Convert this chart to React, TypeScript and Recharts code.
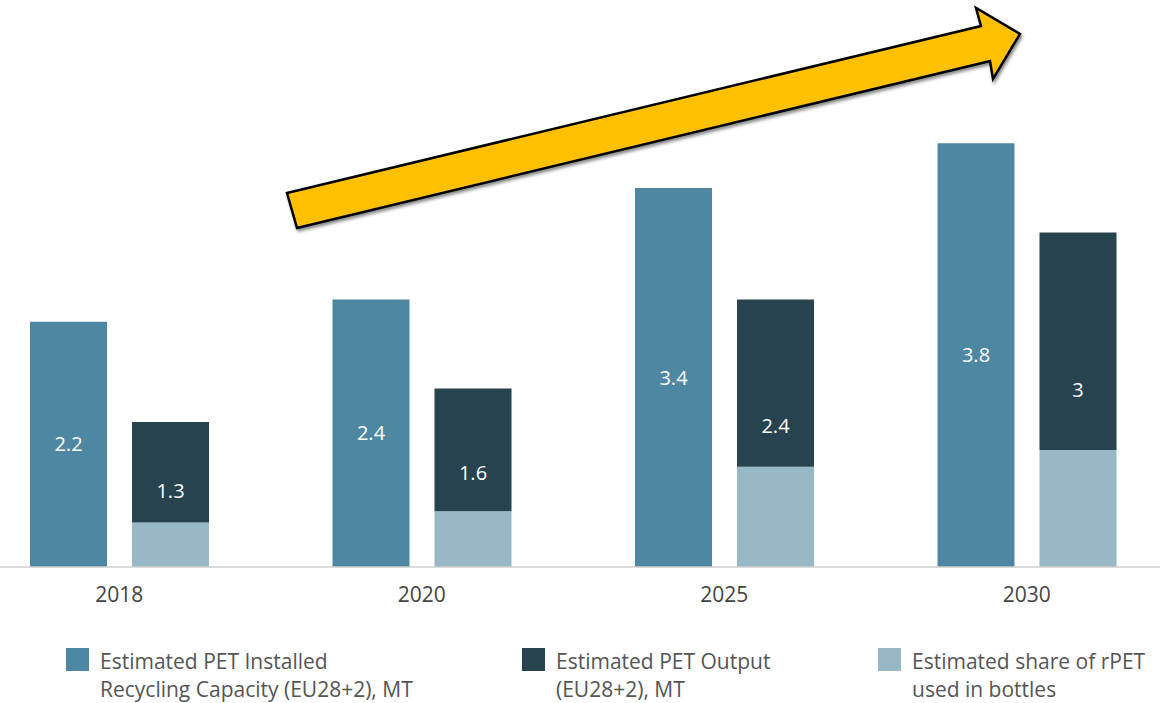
import React from 'react';
import { BarChart, Bar, XAxis, YAxis, LabelList, Legend } from 'recharts';

const years = ['2018', '2020', '2025', '2030'];
const capacity = [2.2, 2.4, 3.4, 3.8];
const output = [1.3, 1.6, 2.4, 3.0];
const shareBottles = [0.4, 0.5, 0.9, 1.05];

const capacityName = 'Estimated PET Installed Recycling Capacity (EU28+2), MT';
const outputName = 'Estimated PET Output (EU28+2), MT';
const shareName = 'Estimated share of rPET used in bottles';

const legendLines: Record<string, string[]> = {
  capacity: ['Estimated PET Installed', 'Recycling Capacity (EU28+2), MT'],
  outputRest: ['Estimated PET Output', '(EU28+2), MT'],
  share: ['Estimated share of rPET', 'used in bottles'],
};
const legendOrder = ['capacity', 'outputRest', 'share'];
const legendLeft: Record<string, number> = { capacity: 66, outputRest: 522, share: 878 };

const COLORS = {
  capacity: '#4E87A1',
  output: '#27434F',
  share: '#98B7C7',
};

const data = years.map((y, i) => ({
  year: y,
  capacity: capacity[i],
  share: shareBottles[i],
  outputRest: +(output[i] - shareBottles[i]).toFixed(3),
  output: output[i],
}));

const FONT = '"Open Sans", "Noto Sans", sans-serif';
const SHIFT = 32;

const Tick = (props: any) => {
  const { x, y, payload } = props;
  return (
    <text x={x} y={y + 35} textAnchor="middle" fontSize={21} fill="#444" fontFamily={FONT}>
      {payload.value}
    </text>
  );
};

const OutputLabel = (props: any) => {
  const { x, y, width, height, index } = props;
  const total = output[index];
  const rest = total - shareBottles[index];
  const fullH = (height * total) / rest;
  const cy = y + fullH * 0.47;
  return (
    <text
      x={x + width / 2}
      y={cy}
      textAnchor="middle"
      dominantBaseline="central"
      fontSize={20}
      fill="#ffffff"
      fontFamily={FONT}
    >
      {String(total)}
    </text>
  );
};

const LegendContent = (props: any) => {
  const payload = props.payload || [];
  const byKey: Record<string, any> = {};
  payload.forEach((p: any) => {
    byKey[p.dataKey] = p;
  });
  return (
    <div style={{ position: 'relative', width: 1160, height: 63, fontFamily: FONT }}>
      {legendOrder.map((k) => {
        const p = byKey[k];
        const color = p ? p.color : '#000';
        return (
          <div key={k} style={{ position: 'absolute', left: legendLeft[k], top: 7 }}>
            <div
              style={{
                position: 'absolute',
                left: 0,
                top: 1,
                width: 23,
                height: 23,
                background: color,
              }}
            />
            <div
              style={{
                position: 'absolute',
                left: 34,
                top: 0,
                fontSize: 21,
                lineHeight: '28px',
                color: '#555',
                whiteSpace: 'nowrap',
              }}
            >
              {legendLines[k].map((l) => (
                <div key={l}>{l}</div>
              ))}
            </div>
          </div>
        );
      })}
    </div>
  );
};

const Arrow = () => (
  <svg
    width={1160}
    height={703}
    style={{ position: 'absolute', left: 0, top: 0, pointerEvents: 'none' }}
  >
    <defs>
      <filter id="shadow" x="-5%" y="-20%" width="110%" height="140%">
        <feDropShadow dx="1.5" dy="2.5" stdDeviation="1.5" floodColor="#000" floodOpacity="0.45" />
      </filter>
    </defs>
    <polygon
      points="287,193 981,26 976,8 1020,34 993,79 990,61 297,228"
      fill="#FFC000"
      stroke="#000"
      strokeWidth={2.5}
      strokeLinejoin="miter"
      filter="url(#shadow)"
    />
  </svg>
);

export default function App() {
  return (
    <div
      style={{
        position: 'absolute',
        left: 0,
        top: 0,
        width: 1160,
        height: 703,
        overflow: 'hidden',
        background: '#fff',
        fontFamily: FONT,
      }}
    >
      <div style={{ position: 'absolute', left: -SHIFT, top: 0 }}>
        <BarChart
          width={1210}
          height={703}
          data={data}
          margin={{ top: 121, right: 0, bottom: 106, left: 0 }}
          barGap={25}
        >
          <XAxis
            dataKey="year"
            axisLine={{ stroke: '#cfcfcf', strokeWidth: 1.5 }}
            tickLine={false}
            tickSize={0}
            tickMargin={0}
            height={30}
            tick={<Tick />}
            interval={0}
          />
          <YAxis hide domain={[0, 4]} />
          <Legend
            layout="vertical"
            align="center"
            verticalAlign="middle"
            content={<LegendContent />}
            wrapperStyle={{ position: 'absolute', left: SHIFT, top: 640, width: 1160, height: 63 }}
          />
          <Bar
            dataKey="capacity"
            name={capacityName}
            stackId="cap"
            fill={COLORS.capacity}
            barSize={77}
            isAnimationActive={false}
          >
            <LabelList
              dataKey="capacity"
              position="center"
              fill="#ffffff"
              fontSize={20}
              fontFamily={FONT}
            />
          </Bar>
          <Bar
            dataKey="share"
            name={shareName}
            stackId="out"
            fill={COLORS.share}
            barSize={77}
            isAnimationActive={false}
          />
          <Bar
            dataKey="outputRest"
            name={outputName}
            stackId="out"
            fill={COLORS.output}
            barSize={77}
            isAnimationActive={false}
          >
            <LabelList dataKey="output" content={<OutputLabel />} />
          </Bar>
        </BarChart>
      </div>
      <Arrow />
    </div>
  );
}
